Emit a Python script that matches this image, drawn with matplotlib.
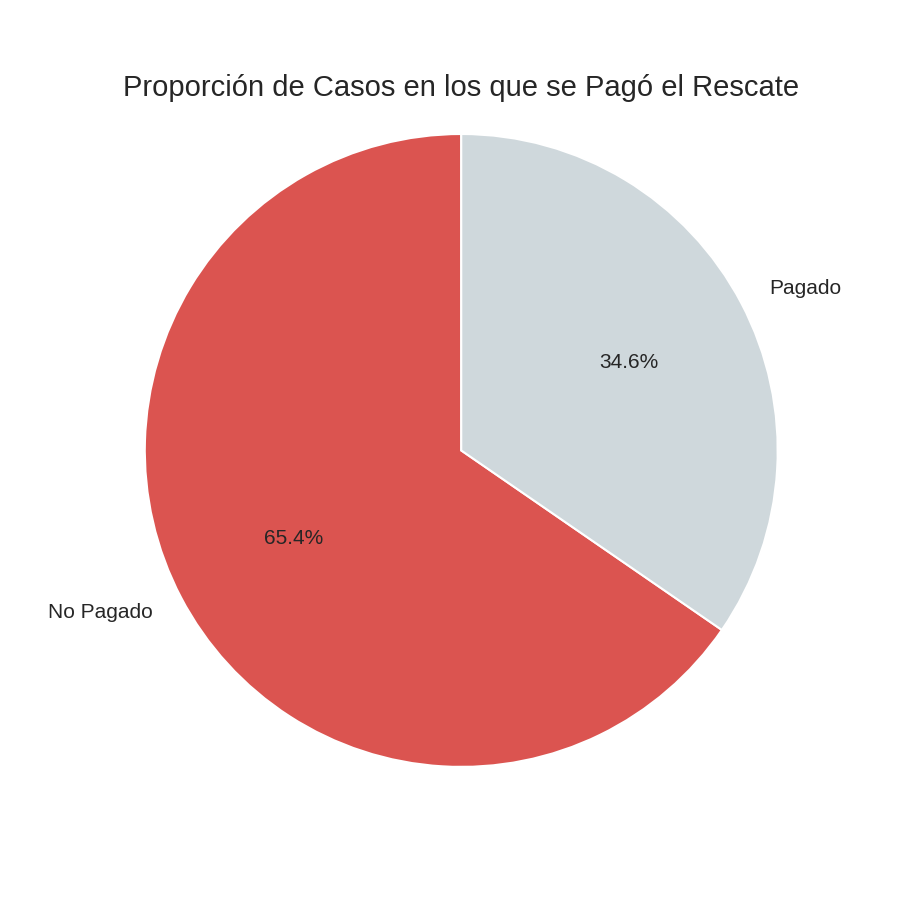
import matplotlib
matplotlib.use('Agg')
import matplotlib.pyplot as plt
import seaborn as sns

sns.set_theme(style='white')
plt.rcParams['font.family'] = ['Liberation Sans', 'DejaVu Sans']

labels = ['No Pagado', 'Pagado']
values = [65.4, 34.6]
colors = ['#db5450', '#cfd8dc']

fig, ax = plt.subplots(figsize=(9, 9), dpi=100)
fig.subplots_adjust(bottom=0.1145, top=0.8845)

ax.pie(values, labels=labels, colors=colors, autopct='%1.1f%%', startangle=90,
       wedgeprops={'edgecolor': 'white', 'linewidth': 1.5},
       textprops={'fontsize': 15, 'color': '#262626'})
ax.set_xlim(-1.095, 1.095)
ax.set_ylim(-1.095, 1.095)
ax.set_title('Proporción de Casos en los que se Pagó el Rescate', fontsize=21, color='#262626')

plt.savefig('out.png', dpi=100)
